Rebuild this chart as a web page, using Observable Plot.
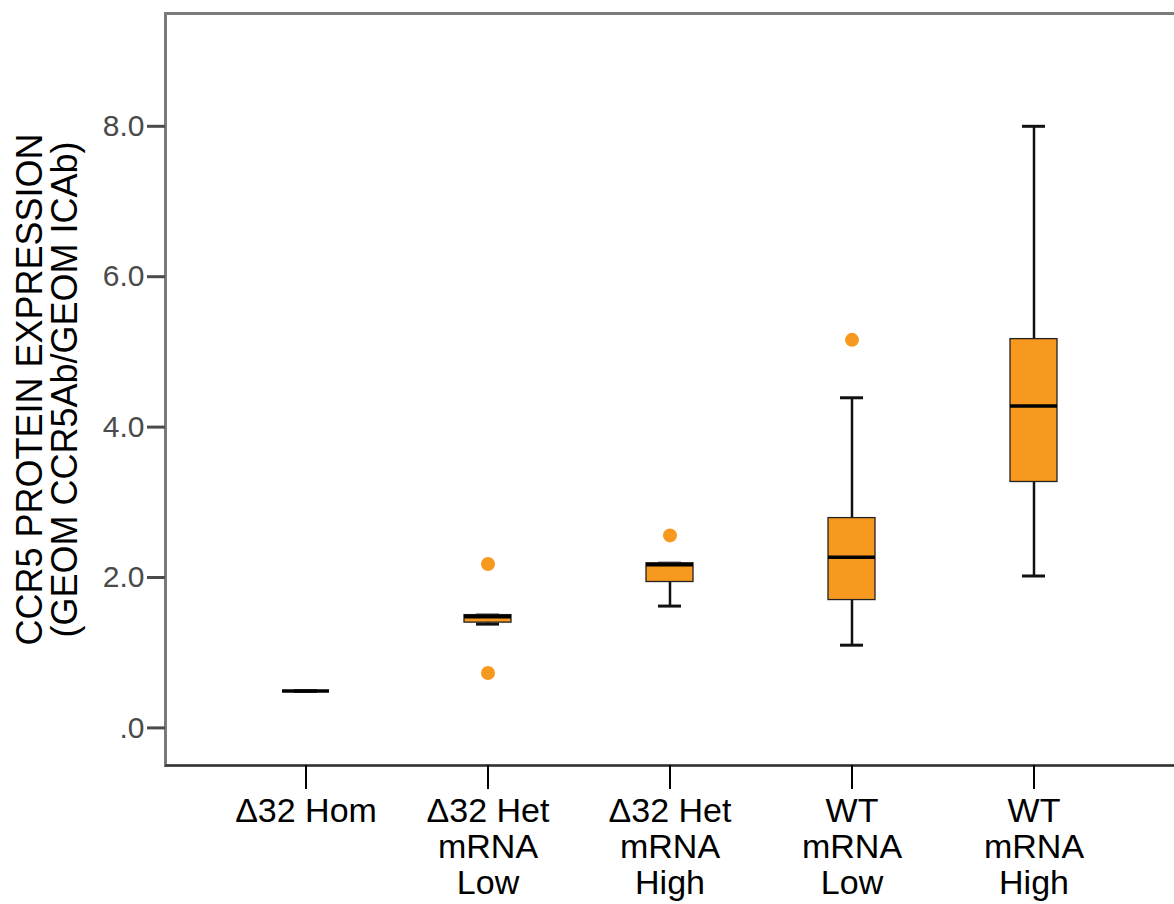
<!DOCTYPE html>
<html>
<head>
<meta charset="utf-8">
<script src="https://cdn.jsdelivr.net/npm/d3@7"></script>
<script src="https://cdn.jsdelivr.net/npm/@observablehq/plot@0.6"></script>
<style>
  html, body { margin: 0; padding: 0; background: #fff; }
  #chart svg { display: block; }
</style>
</head>
<body>
<div id="chart"></div>
<script>
const categories = ["Δ32 Hom", "Δ32 Het\nmRNA\nLow", "Δ32 Het\nmRNA\nHigh", "WT\nmRNA\nLow", "WT\nmRNA\nHigh"];
const whiskerLow  = [0.49, 1.38, 1.62, 1.10, 2.02];
const q1          = [0.49, 1.40, 1.94, 1.70, 3.27];
const median      = [0.49, 1.48, 2.17, 2.27, 4.28];
const q3          = [0.49, 1.50, 2.19, 2.79, 5.17];
const whiskerHigh = [0.49, 1.50, 2.19, 4.39, 8.00];
const outlierGroup = [categories[1], categories[1], categories[2], categories[3]];
const outlierValue = [2.18, 0.73, 2.56, 5.16];
const yTicks = [0, 2, 4, 6, 8];
const yTickLabels = [".0", "2.0", "4.0", "6.0", "8.0"];
const titleLine1 = "CCR5 PROTEIN EXPRESSION";
const titleLine2 = "(GEOM CCR5Ab/GEOM ICAb)";

const box = categories.map((c, i) => ({cat: c, lo: whiskerLow[i], q1: q1[i], med: median[i], q3: q3[i], hi: whiskerHigh[i]}));
const outliers = outlierGroup.map((c, i) => ({cat: c, v: outlierValue[i]}));

const orange = "#F7991F";

const chart = Plot.plot({
  width: 1174,
  height: 904,
  marginLeft: 165,
  marginRight: 0,
  marginTop: 13,
  marginBottom: 139,
  style: {fontFamily: "'Liberation Sans', Arial, sans-serif", background: "#fff"},
  x: {domain: categories, range: [165, 1174], paddingInner: 0.742, paddingOuter: 0.638, align: 0.5},
  y: {domain: [-0.5, 9.5], label: null},
  marks: [
    Plot.frame({stroke: "#7a7a7a", strokeWidth: 3, insetRight: -10}),
    Plot.ruleX(box, {x: "cat", y1: "lo", y2: "q1", stroke: "#111", strokeWidth: 2.5}),
    Plot.ruleX(box, {x: "cat", y1: "q3", y2: "hi", stroke: "#111", strokeWidth: 2.5}),
    Plot.tickY(box, {x: "cat", y: "lo", insetLeft: 12, insetRight: 12, stroke: "#111", strokeWidth: 3}),
    Plot.tickY(box, {x: "cat", y: "hi", insetLeft: 12, insetRight: 12, stroke: "#111", strokeWidth: 3}),
    Plot.barY(box, {x: "cat", y1: "q1", y2: "q3", fill: orange, stroke: "#222", strokeWidth: 1.3}),
    Plot.tickY(box, {x: "cat", y: "med", stroke: "#000", strokeWidth: 3.6}),
    Plot.dot(outliers, {x: "cat", y: "v", r: 7, fill: orange, stroke: null}),
    Plot.ruleY([-0.5], {stroke: "#333", strokeWidth: 2}),
    Plot.axisY({ticks: yTicks, tickFormat: d => yTickLabels[yTicks.indexOf(d)], tickSize: 18, tickPadding: 3, fontSize: 30, color: "#4a4a4a", strokeWidth: 3, label: null}),
    Plot.axisX({tickSize: 24, tickPadding: 7, fontSize: 34, lineHeight: 1.06, color: "#000", strokeWidth: 2, label: null}),
    Plot.text([titleLine1], {text: d => d, frameAnchor: "left", rotate: -90, dx: -135, fontSize: 36, fill: "#000", lineAnchor: "middle", textAnchor: "middle"}),
    Plot.text([titleLine2], {text: d => d, frameAnchor: "left", rotate: -90, dx: -100, fontSize: 36, fill: "#000", lineAnchor: "middle", textAnchor: "middle"})
  ]
});
document.getElementById("chart").appendChild(chart);
</script>
</body>
</html>
